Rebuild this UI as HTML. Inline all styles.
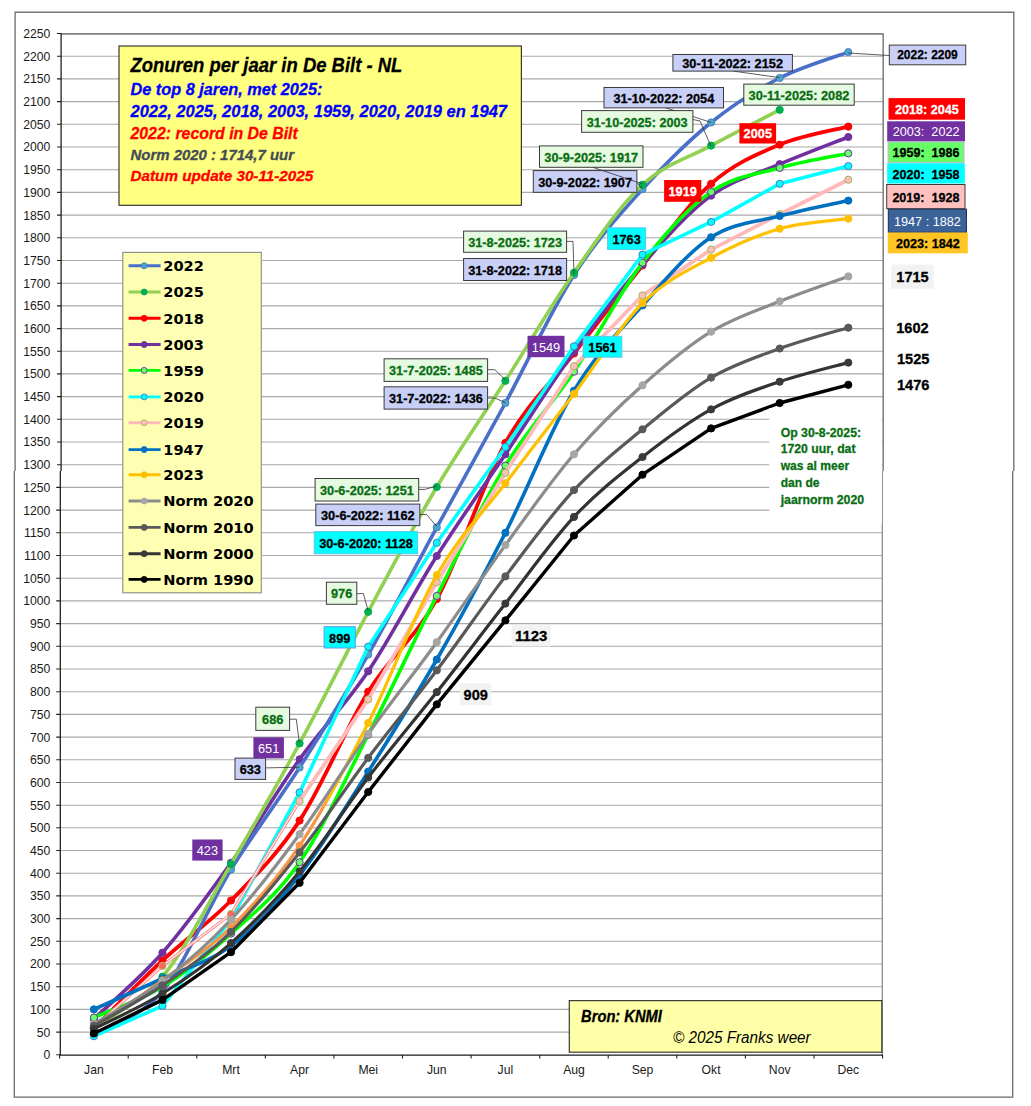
<!DOCTYPE html><html><head><meta charset="utf-8"><title>Zonuren per jaar in De Bilt</title><style>html,body{margin:0;padding:0;background:#fff;width:1031px;height:1106px;overflow:hidden}svg{display:block}</style></head><body>
<svg width="1031" height="1106" viewBox="0 0 1031 1106">
<rect x="0" y="0" width="1031" height="1106" fill="#fff"/>
<path d="M15.1,471.0V12.2H1013.8V471.0" stroke="#767676" stroke-width="1.4" fill="none"/>
<path d="M14.3,471.0V1097.1H1012.7V471.0" stroke="#6a6a6a" stroke-width="1.3" fill="none"/>
<path d="M60.2,1032.1H882.2M60.2,1009.4H882.2M60.2,986.7H882.2M60.2,964.0H882.2M60.2,941.3H882.2M60.2,918.6H882.2M60.2,895.9H882.2M60.2,873.2H882.2M60.2,850.5H882.2M60.2,827.8H882.2M60.2,805.2H882.2M60.2,782.5H882.2M60.2,759.8H882.2M60.2,737.1H882.2M60.2,714.4H882.2M60.2,691.7H882.2M60.2,669.0H882.2M60.2,646.3H882.2M60.2,623.6H882.2M60.2,600.9H882.2M60.2,578.2H882.2M60.2,555.5H882.2M60.2,532.8H882.2M60.2,510.1H882.2M60.2,487.4H882.2M61.0,464.7H883.0M61.0,442.0H883.0M61.0,419.3H883.0M61.0,396.6H883.0M61.0,373.9H883.0M61.0,351.3H883.0M61.0,328.6H883.0M61.0,305.9H883.0M61.0,283.2H883.0M61.0,260.5H883.0M61.0,237.8H883.0M61.0,215.1H883.0M61.0,192.4H883.0M61.0,169.7H883.0M61.0,147.0H883.0M61.0,124.3H883.0M61.0,101.6H883.0M61.0,78.9H883.0M61.0,56.2H883.0M61.0,33.5H883.0" stroke="#a9a9a9" stroke-width="1.1" fill="none"/>
<path d="M61.0,34.0H883.2V471.0" stroke="#7e7e7e" stroke-width="1.5" fill="none"/>
<path d="M882.3,471.0V1055.0" stroke="#858585" stroke-width="1.2" fill="none"/>
<path d="M56.2,1054.8H60.4M56.2,1032.1H60.4M56.2,1009.4H60.4M56.2,986.7H60.4M56.2,964.0H60.4M56.2,941.3H60.4M56.2,918.6H60.4M56.2,895.9H60.4M56.2,873.2H60.4M56.2,850.5H60.4M56.2,827.8H60.4M56.2,805.2H60.4M56.2,782.5H60.4M56.2,759.8H60.4M56.2,737.1H60.4M56.2,714.4H60.4M56.2,691.7H60.4M56.2,669.0H60.4M56.2,646.3H60.4M56.2,623.6H60.4M56.2,600.9H60.4M56.2,578.2H60.4M56.2,555.5H60.4M56.2,532.8H60.4M56.2,510.1H60.4M56.2,487.4H60.4M57.0,464.7H61.2M57.0,442.0H61.2M57.0,419.3H61.2M57.0,396.6H61.2M57.0,373.9H61.2M57.0,351.3H61.2M57.0,328.6H61.2M57.0,305.9H61.2M57.0,283.2H61.2M57.0,260.5H61.2M57.0,237.8H61.2M57.0,215.1H61.2M57.0,192.4H61.2M57.0,169.7H61.2M57.0,147.0H61.2M57.0,124.3H61.2M57.0,101.6H61.2M57.0,78.9H61.2M57.0,56.2H61.2M57.0,33.5H61.2M59.6,1055.0V1058.6M128.2,1055.0V1058.6M196.8,1055.0V1058.6M265.3,1055.0V1058.6M333.9,1055.0V1058.6M402.5,1055.0V1058.6M471.1,1055.0V1058.6M539.7,1055.0V1058.6M608.2,1055.0V1058.6M676.8,1055.0V1058.6M745.4,1055.0V1058.6M814.0,1055.0V1058.6M882.6,1055.0V1058.6" stroke="#222" stroke-width="1.1" fill="none"/>
<path d="M61.1,33.0V471.0" stroke="#1a1a1a" stroke-width="1.25" fill="none"/>
<path d="M60.3,471.0V1055.0H882.6" stroke="#1a1a1a" stroke-width="1.25" fill="none"/>
<g font-family="'Liberation Sans', Arial, sans-serif" font-size="12.2" fill="#1a1a1a" text-anchor="end"><text x="50.3" y="1059.2">0</text><text x="50.3" y="1036.5">50</text><text x="50.3" y="1013.8">100</text><text x="50.3" y="991.1">150</text><text x="50.3" y="968.4">200</text><text x="50.3" y="945.7">250</text><text x="50.3" y="923.0">300</text><text x="50.3" y="900.3">350</text><text x="50.3" y="877.6">400</text><text x="50.3" y="854.9">450</text><text x="50.3" y="832.2">500</text><text x="50.3" y="809.6">550</text><text x="50.3" y="786.9">600</text><text x="50.3" y="764.2">650</text><text x="50.3" y="741.5">700</text><text x="50.3" y="718.8">750</text><text x="50.3" y="696.1">800</text><text x="50.3" y="673.4">850</text><text x="50.3" y="650.7">900</text><text x="50.3" y="628.0">950</text><text x="50.3" y="605.3">1000</text><text x="50.3" y="582.6">1050</text><text x="50.3" y="559.9">1100</text><text x="50.3" y="537.2">1150</text><text x="50.3" y="514.5">1200</text><text x="50.3" y="491.8">1250</text><text x="50.3" y="469.1">1300</text><text x="50.3" y="446.4">1350</text><text x="50.3" y="423.7">1400</text><text x="50.3" y="401.0">1450</text><text x="50.3" y="378.3">1500</text><text x="50.3" y="355.7">1550</text><text x="50.3" y="333.0">1600</text><text x="50.3" y="310.3">1650</text><text x="50.3" y="287.6">1700</text><text x="50.3" y="264.9">1750</text><text x="50.3" y="242.2">1800</text><text x="50.3" y="219.5">1850</text><text x="50.3" y="196.8">1900</text><text x="50.3" y="174.1">1950</text><text x="50.3" y="151.4">2000</text><text x="50.3" y="128.7">2050</text><text x="50.3" y="106.0">2100</text><text x="50.3" y="83.3">2150</text><text x="50.3" y="60.6">2200</text><text x="50.3" y="37.9">2250</text></g>
<g font-family="'Liberation Sans', Arial, sans-serif" font-size="12.2" fill="#1a1a1a" text-anchor="middle"><text x="93.9" y="1074.0">Jan</text><text x="162.5" y="1074.0">Feb</text><text x="231.0" y="1074.0">Mrt</text><text x="299.6" y="1074.0">Apr</text><text x="368.2" y="1074.0">Mei</text><text x="436.8" y="1074.0">Jun</text><text x="505.4" y="1074.0">Jul</text><text x="574.0" y="1074.0">Aug</text><text x="642.5" y="1074.0">Sep</text><text x="711.1" y="1074.0">Okt</text><text x="779.7" y="1074.0">Nov</text><text x="848.3" y="1074.0">Dec</text></g>
<defs><linearGradient id="g23" gradientUnits="userSpaceOnUse" x1="299.6" y1="0" x2="368.2" y2="0"><stop offset="0" stop-color="#f79646"/><stop offset="0.33" stop-color="#f79646"/><stop offset="0.45" stop-color="#ffc000"/><stop offset="1" stop-color="#ffc000"/></linearGradient></defs>
<path d="M93.9,1028.5 C105.3,1017.1 139.6,981.7 162.5,960.4 C185.3,939.1 208.2,923.8 231.0,900.5 C253.9,877.2 276.8,855.4 299.6,820.6 C322.5,785.8 345.4,728.6 368.2,691.7 C391.1,654.8 413.9,640.5 436.8,599.1 C459.7,557.6 482.5,483.9 505.4,442.9 C528.2,402.0 551.1,383.1 574.0,353.5 C596.8,323.9 619.7,293.8 642.5,265.5 C665.4,237.2 688.2,203.9 711.1,183.8 C734.0,163.6 756.8,154.3 779.7,144.7 C802.6,135.2 836.8,129.6 848.3,126.6" stroke="#ff0000" stroke-width="3.8" fill="none" stroke-linejoin="round" stroke-linecap="round"/>
<g fill="#ff0000" stroke="#ff0000" stroke-width="1"><circle cx="93.9" cy="1028.5" r="3.6"/><circle cx="162.5" cy="960.4" r="3.6"/><circle cx="231.0" cy="900.5" r="3.6"/><circle cx="299.6" cy="820.6" r="3.6"/><circle cx="368.2" cy="691.7" r="3.6"/><circle cx="436.8" cy="599.1" r="3.6"/><circle cx="505.4" cy="442.9" r="3.6"/><circle cx="574.0" cy="353.5" r="3.6"/><circle cx="642.5" cy="265.5" r="3.6"/><circle cx="711.1" cy="183.8" r="3.6"/><circle cx="779.7" cy="144.7" r="3.6"/><circle cx="848.3" cy="126.6" r="3.6"/></g>
<path d="M93.9,1018.9 C105.3,1007.9 139.6,978.7 162.5,952.7 C185.3,926.6 208.2,895.0 231.0,862.8 C253.9,830.6 276.8,791.2 299.6,759.3 C322.5,727.4 345.4,705.1 368.2,671.3 C391.1,637.4 413.9,592.1 436.8,556.0 C459.7,519.8 482.5,488.3 505.4,454.3 C528.2,420.2 551.1,383.3 574.0,351.7 C596.8,320.1 619.7,290.6 642.5,264.6 C665.4,238.5 688.2,212.3 711.1,195.6 C734.0,178.8 756.8,174.0 779.7,164.2 C802.6,154.5 836.8,141.6 848.3,137.0" stroke="#7030a0" stroke-width="3.6" fill="none" stroke-linejoin="round" stroke-linecap="round"/>
<g fill="#7030a0" stroke="#7030a0" stroke-width="1"><circle cx="93.9" cy="1018.9" r="3.6"/><circle cx="162.5" cy="952.7" r="3.6"/><circle cx="231.0" cy="862.8" r="3.6"/><circle cx="299.6" cy="759.3" r="3.6"/><circle cx="368.2" cy="671.3" r="3.6"/><circle cx="436.8" cy="556.0" r="3.6"/><circle cx="505.4" cy="454.3" r="3.6"/><circle cx="574.0" cy="351.7" r="3.6"/><circle cx="642.5" cy="264.6" r="3.6"/><circle cx="711.1" cy="195.6" r="3.6"/><circle cx="779.7" cy="164.2" r="3.6"/><circle cx="848.3" cy="137.0" r="3.6"/></g>
<path d="M93.9,1034.4 C105.3,1027.2 139.6,1018.7 162.5,991.3 C185.3,963.8 208.2,906.9 231.0,869.6 C253.9,832.3 276.8,803.3 299.6,767.5 C322.5,731.6 345.4,694.5 368.2,654.5 C391.1,614.4 413.9,569.3 436.8,527.4 C459.7,485.5 482.5,445.1 505.4,403.0 C528.2,360.9 551.1,310.6 574.0,275.0 C596.8,239.4 619.7,214.6 642.5,189.2 C665.4,163.8 688.2,141.0 711.1,122.5 C734.0,104.0 756.8,89.7 779.7,78.0 C802.6,66.3 836.8,56.4 848.3,52.1" stroke="#4a6fc9" stroke-width="3.6" fill="none" stroke-linejoin="round" stroke-linecap="round"/>
<g fill="#4ba6c8" stroke="#4a7cc4" stroke-width="1"><circle cx="93.9" cy="1034.4" r="3.6"/><circle cx="162.5" cy="991.3" r="3.6"/><circle cx="231.0" cy="869.6" r="3.6"/><circle cx="299.6" cy="767.5" r="3.6"/><circle cx="368.2" cy="654.5" r="3.6"/><circle cx="436.8" cy="527.4" r="3.6"/><circle cx="505.4" cy="403.0" r="3.6"/><circle cx="574.0" cy="275.0" r="3.6"/><circle cx="642.5" cy="189.2" r="3.6"/><circle cx="711.1" cy="122.5" r="3.6"/><circle cx="779.7" cy="78.0" r="3.6"/><circle cx="848.3" cy="52.1" r="3.6"/></g>
<path d="M93.9,1027.6 C105.3,1019.1 139.6,1004.0 162.5,976.7 C185.3,949.5 208.2,903.0 231.0,864.2 C253.9,825.3 276.8,785.5 299.6,743.4 C322.5,701.4 345.4,654.5 368.2,611.8 C391.1,569.1 413.9,525.5 436.8,487.0 C459.7,448.5 482.5,416.5 505.4,380.8 C528.2,345.1 551.1,305.4 574.0,272.7 C596.8,240.0 619.7,205.9 642.5,184.7 C665.4,163.5 688.2,158.1 711.1,145.6 C734.0,133.2 768.3,115.8 779.7,109.8" stroke="#92d050" stroke-width="3.6" fill="none" stroke-linejoin="round" stroke-linecap="round"/>
<g fill="#00b050" stroke="#00b050" stroke-width="1"><circle cx="93.9" cy="1027.6" r="3.6"/><circle cx="162.5" cy="976.7" r="3.6"/><circle cx="231.0" cy="864.2" r="3.6"/><circle cx="299.6" cy="743.4" r="3.6"/><circle cx="368.2" cy="611.8" r="3.6"/><circle cx="436.8" cy="487.0" r="3.6"/><circle cx="505.4" cy="380.8" r="3.6"/><circle cx="574.0" cy="272.7" r="3.6"/><circle cx="642.5" cy="184.7" r="3.6"/><circle cx="711.1" cy="145.6" r="3.6"/><circle cx="779.7" cy="109.8" r="3.6"/></g>
<path d="M93.9,1017.6 C105.3,1012.4 139.6,1000.7 162.5,986.7 C185.3,972.7 208.2,954.3 231.0,933.6 C253.9,912.9 276.8,895.5 299.6,862.3 C322.5,829.2 345.4,779.2 368.2,734.8 C391.1,690.4 413.9,640.8 436.8,595.9 C459.7,551.0 482.5,503.0 505.4,465.6 C528.2,428.3 551.1,405.5 574.0,371.7 C596.8,337.9 619.7,292.7 642.5,262.7 C665.4,232.8 688.2,207.7 711.1,191.9 C734.0,176.1 756.8,174.3 779.7,167.9 C802.6,161.4 836.8,155.8 848.3,153.4" stroke="#00ff00" stroke-width="3.6" fill="none" stroke-linejoin="round" stroke-linecap="round"/>
<g fill="#66ff66" stroke="#7030a0" stroke-width="1"><circle cx="93.9" cy="1017.6" r="3.6"/><circle cx="162.5" cy="986.7" r="3.6"/><circle cx="231.0" cy="933.6" r="3.6"/><circle cx="299.6" cy="862.3" r="3.6"/><circle cx="368.2" cy="734.8" r="3.6"/><circle cx="436.8" cy="595.9" r="3.6"/><circle cx="505.4" cy="465.6" r="3.6"/><circle cx="574.0" cy="371.7" r="3.6"/><circle cx="642.5" cy="262.7" r="3.6"/><circle cx="711.1" cy="191.9" r="3.6"/><circle cx="779.7" cy="167.9" r="3.6"/><circle cx="848.3" cy="153.4" r="3.6"/></g>
<path d="M93.9,1036.2 L162.5,1005.8 L231.0,919.5 L299.6,792.4 L368.2,646.7 L436.8,542.8 L505.4,447.0 L574.0,346.3 L642.5,254.6 L711.1,221.9 L779.7,183.8 L848.3,166.1" stroke="#00ffff" stroke-width="3.6" fill="none" stroke-linejoin="round" stroke-linecap="round"/>
<g fill="#00ffff" stroke="#4a7cc4" stroke-width="1"><circle cx="93.9" cy="1036.2" r="3.6"/><circle cx="162.5" cy="1005.8" r="3.6"/><circle cx="231.0" cy="919.5" r="3.6"/><circle cx="299.6" cy="792.4" r="3.6"/><circle cx="368.2" cy="646.7" r="3.6"/><circle cx="436.8" cy="542.8" r="3.6"/><circle cx="505.4" cy="447.0" r="3.6"/><circle cx="574.0" cy="346.3" r="3.6"/><circle cx="642.5" cy="254.6" r="3.6"/><circle cx="711.1" cy="221.9" r="3.6"/><circle cx="779.7" cy="183.8" r="3.6"/><circle cx="848.3" cy="166.1" r="3.6"/></g>
<path d="M93.9,1027.6 L162.5,965.8 L231.0,914.1 L299.6,801.1" stroke="#ff8080" stroke-width="3.0" fill="none" stroke-linejoin="round"/>
<path d="M93.9,1027.6 L162.5,965.8 L231.0,914.1 L299.6,801.1" stroke="#fff0f0" stroke-width="1.2" fill="none" stroke-linejoin="round"/>
<path d="M299.6,801.1 L368.2,699.4 L436.8,582.3 L505.4,472.9 L574.0,366.2 L642.5,295.4 L711.1,249.6 L779.7,214.2 L848.3,179.7" stroke="#ffb9b9" stroke-width="3.8" fill="none" stroke-linejoin="round" stroke-linecap="round"/>
<g fill="#ffbdbd" stroke="#9bbb59" stroke-width="1"><circle cx="93.9" cy="1027.6" r="3.6" fill="#ff6262"/><circle cx="162.5" cy="965.8" r="3.6" fill="#ff6262"/><circle cx="231.0" cy="914.1" r="3.6" fill="#ff6262"/><circle cx="299.6" cy="801.1" r="3.6"/><circle cx="368.2" cy="699.4" r="3.6"/><circle cx="436.8" cy="582.3" r="3.6"/><circle cx="505.4" cy="472.9" r="3.6"/><circle cx="574.0" cy="366.2" r="3.6"/><circle cx="642.5" cy="295.4" r="3.6"/><circle cx="711.1" cy="249.6" r="3.6"/><circle cx="779.7" cy="214.2" r="3.6"/><circle cx="848.3" cy="179.7" r="3.6"/></g>
<path d="M93.9,1009.4 C105.3,1004.3 139.6,989.1 162.5,978.5 C185.3,968.0 208.2,963.1 231.0,945.9 C253.9,928.6 276.8,904.1 299.6,875.1 C322.5,846.0 345.4,807.5 368.2,771.6 C391.1,735.6 413.9,699.2 436.8,659.5 C459.7,619.7 482.5,577.6 505.4,532.8 C528.2,488.0 551.1,428.6 574.0,390.7 C596.8,352.8 619.7,331.0 642.5,305.4 C665.4,279.8 688.2,252.2 711.1,237.3 C734.0,222.4 756.8,222.1 779.7,216.0 C802.6,209.9 836.8,203.1 848.3,200.6" stroke="#0070c0" stroke-width="3.6" fill="none" stroke-linejoin="round" stroke-linecap="round"/>
<g fill="#0070c0" stroke="#0070c0" stroke-width="1"><circle cx="93.9" cy="1009.4" r="3.6"/><circle cx="162.5" cy="978.5" r="3.6"/><circle cx="231.0" cy="945.9" r="3.6"/><circle cx="299.6" cy="875.1" r="3.6"/><circle cx="368.2" cy="771.6" r="3.6"/><circle cx="436.8" cy="659.5" r="3.6"/><circle cx="505.4" cy="532.8" r="3.6"/><circle cx="574.0" cy="390.7" r="3.6"/><circle cx="642.5" cy="305.4" r="3.6"/><circle cx="711.1" cy="237.3" r="3.6"/><circle cx="779.7" cy="216.0" r="3.6"/><circle cx="848.3" cy="200.6" r="3.6"/></g>
<path d="M93.9,1027.6 C105.3,1019.7 139.6,997.1 162.5,980.4 C185.3,963.6 208.2,949.7 231.0,927.3 C253.9,904.8 276.8,879.6 299.6,845.6 C322.5,811.5 345.4,768.1 368.2,723.0 C391.1,677.9 413.9,615.0 436.8,575.0 C459.7,535.1 482.5,513.5 505.4,483.3 C528.2,453.2 551.1,424.0 574.0,393.9 C596.8,363.9 619.7,325.8 642.5,303.1 C665.4,280.4 688.2,270.2 711.1,257.8 C734.0,245.3 756.8,235.2 779.7,228.7 C802.6,222.2 836.8,220.4 848.3,218.7" stroke="url(#g23)" stroke-width="3.2" fill="none" stroke-linejoin="round" stroke-linecap="round"/>
<g fill="#ffc000" stroke="#ffc000" stroke-width="1"><circle cx="93.9" cy="1027.6" r="3.6" fill="#f79646" stroke="#f79646"/><circle cx="162.5" cy="980.4" r="3.6" fill="#f79646" stroke="#f79646"/><circle cx="231.0" cy="927.3" r="3.6" fill="#f79646" stroke="#f79646"/><circle cx="299.6" cy="845.6" r="3.6" fill="#f79646" stroke="#f79646"/><circle cx="368.2" cy="723.0" r="3.6"/><circle cx="436.8" cy="575.0" r="3.6"/><circle cx="505.4" cy="483.3" r="3.6"/><circle cx="574.0" cy="393.9" r="3.6"/><circle cx="642.5" cy="303.1" r="3.6"/><circle cx="711.1" cy="257.8" r="3.6"/><circle cx="779.7" cy="228.7" r="3.6"/><circle cx="848.3" cy="218.7" r="3.6"/></g>
<path d="M93.9,1023.9 C105.3,1016.8 139.6,998.7 162.5,981.3 C185.3,963.9 208.2,944.0 231.0,919.5 C253.9,895.0 276.8,865.1 299.6,834.2 C322.5,803.3 345.4,765.9 368.2,733.9 C391.1,701.9 413.9,673.7 436.8,642.2 C459.7,610.7 482.5,576.4 505.4,545.1 C528.2,513.8 551.1,480.9 574.0,454.3 C596.8,427.7 619.7,405.7 642.5,385.3 C665.4,364.9 688.2,345.7 711.1,331.7 C734.0,317.7 756.8,310.6 779.7,301.3 C802.6,292.1 836.8,280.5 848.3,276.4" stroke="#8c8c8c" stroke-width="3.2" fill="none" stroke-linejoin="round" stroke-linecap="round"/>
<g fill="#a6a6a6" stroke="#a6a6a6" stroke-width="1"><circle cx="93.9" cy="1023.9" r="3.6"/><circle cx="162.5" cy="981.3" r="3.6"/><circle cx="231.0" cy="919.5" r="3.6"/><circle cx="299.6" cy="834.2" r="3.6"/><circle cx="368.2" cy="733.9" r="3.6"/><circle cx="436.8" cy="642.2" r="3.6"/><circle cx="505.4" cy="545.1" r="3.6"/><circle cx="574.0" cy="454.3" r="3.6"/><circle cx="642.5" cy="385.3" r="3.6"/><circle cx="711.1" cy="331.7" r="3.6"/><circle cx="779.7" cy="301.3" r="3.6"/><circle cx="848.3" cy="276.4" r="3.6"/></g>
<path d="M93.9,1025.8 C105.3,1019.0 139.6,1001.0 162.5,985.4 C185.3,969.7 208.2,954.0 231.0,931.8 C253.9,909.6 276.8,881.3 299.6,852.4 C322.5,823.4 345.4,788.3 368.2,757.9 C391.1,727.6 413.9,700.6 436.8,670.3 C459.7,640.1 482.5,606.4 505.4,576.4 C528.2,546.4 551.1,514.7 574.0,490.1 C596.8,465.6 619.7,448.1 642.5,429.3 C665.4,410.6 688.2,391.0 711.1,377.6 C734.0,364.1 756.8,356.9 779.7,348.5 C802.6,340.2 836.8,331.1 848.3,327.7" stroke="#595959" stroke-width="3.2" fill="none" stroke-linejoin="round" stroke-linecap="round"/>
<g fill="#595959" stroke="#595959" stroke-width="1"><circle cx="93.9" cy="1025.8" r="3.6"/><circle cx="162.5" cy="985.4" r="3.6"/><circle cx="231.0" cy="931.8" r="3.6"/><circle cx="299.6" cy="852.4" r="3.6"/><circle cx="368.2" cy="757.9" r="3.6"/><circle cx="436.8" cy="670.3" r="3.6"/><circle cx="505.4" cy="576.4" r="3.6"/><circle cx="574.0" cy="490.1" r="3.6"/><circle cx="642.5" cy="429.3" r="3.6"/><circle cx="711.1" cy="377.6" r="3.6"/><circle cx="779.7" cy="348.5" r="3.6"/><circle cx="848.3" cy="327.7" r="3.6"/></g>
<path d="M93.9,1028.9 C105.3,1023.0 139.6,1007.8 162.5,993.5 C185.3,979.2 208.2,963.5 231.0,943.1 C253.9,922.8 276.8,899.0 299.6,871.4 C322.5,843.8 345.4,807.3 368.2,777.5 C391.1,747.6 413.9,721.1 436.8,692.1 C459.7,663.2 482.5,632.8 505.4,603.6 C528.2,574.4 551.1,541.4 574.0,516.9 C596.8,492.5 619.7,474.9 642.5,457.0 C665.4,439.1 688.2,421.9 711.1,409.4 C734.0,396.8 756.8,389.5 779.7,381.7 C802.6,373.9 836.8,365.8 848.3,362.6" stroke="#333333" stroke-width="3.2" fill="none" stroke-linejoin="round" stroke-linecap="round"/>
<g fill="#3a3a3a" stroke="#3a3a3a" stroke-width="1"><circle cx="93.9" cy="1028.9" r="3.6"/><circle cx="162.5" cy="993.5" r="3.6"/><circle cx="231.0" cy="943.1" r="3.6"/><circle cx="299.6" cy="871.4" r="3.6"/><circle cx="368.2" cy="777.5" r="3.6"/><circle cx="436.8" cy="692.1" r="3.6"/><circle cx="505.4" cy="603.6" r="3.6"/><circle cx="574.0" cy="516.9" r="3.6"/><circle cx="642.5" cy="457.0" r="3.6"/><circle cx="711.1" cy="409.4" r="3.6"/><circle cx="779.7" cy="381.7" r="3.6"/><circle cx="848.3" cy="362.6" r="3.6"/></g>
<path d="M93.9,1033.5 L162.5,999.9 L231.0,952.2 L299.6,882.8 L368.2,792.0 L436.8,704.4 L505.4,620.4 L574.0,535.5 L642.5,474.7 L711.1,428.4 L779.7,403.0 L848.3,384.8" stroke="#000000" stroke-width="3.4" fill="none" stroke-linejoin="round" stroke-linecap="round"/>
<g fill="#000000" stroke="#000000" stroke-width="1"><circle cx="93.9" cy="1033.5" r="3.6"/><circle cx="162.5" cy="999.9" r="3.6"/><circle cx="231.0" cy="952.2" r="3.6"/><circle cx="299.6" cy="882.8" r="3.6"/><circle cx="368.2" cy="792.0" r="3.6"/><circle cx="436.8" cy="704.4" r="3.6"/><circle cx="505.4" cy="620.4" r="3.6"/><circle cx="574.0" cy="535.5" r="3.6"/><circle cx="642.5" cy="474.7" r="3.6"/><circle cx="711.1" cy="428.4" r="3.6"/><circle cx="779.7" cy="403.0" r="3.6"/><circle cx="848.3" cy="384.8" r="3.6"/></g>
<path d="M848.4,53.0 L889.3,55.5" stroke="#333" stroke-width="0.8" fill="none"/>
<rect x="889.3" y="45.1" width="76.4" height="19.7" fill="#c8d0f8" stroke="#3a3a3a" stroke-width="1.0"/>
<text stroke="#000" stroke-width="0.30" x="927.5" y="59.2" font-family="'Liberation Sans', Arial, sans-serif" font-size="12.5" font-weight="bold" font-style="normal" fill="#000" text-anchor="middle" textLength="60.6" lengthAdjust="spacingAndGlyphs">2022: 2209</text>
<path d="M733.3,71.1 L779.5,77.6" stroke="#333" stroke-width="0.8" fill="none"/>
<rect x="672.9" y="54.5" width="119.5" height="16.6" fill="#c8d0f8" stroke="#3a3a3a" stroke-width="1.0"/>
<text stroke="#000" stroke-width="0.30" x="732.6" y="67.9" font-family="'Liberation Sans', Arial, sans-serif" font-size="13.2" font-weight="bold" font-style="normal" fill="#000" text-anchor="middle" textLength="100.8" lengthAdjust="spacingAndGlyphs">30-11-2022: 2152</text>
<path d="M665.8,107.9 L692.9,116.5 L710.9,122.4" stroke="#333" stroke-width="0.8" fill="none"/>
<rect x="604.0" y="87.5" width="119.5" height="20.4" fill="#c8d0f8" stroke="#3a3a3a" stroke-width="1.0"/>
<text stroke="#000" stroke-width="0.30" x="663.8" y="102.8" font-family="'Liberation Sans', Arial, sans-serif" font-size="13.2" font-weight="bold" font-style="normal" fill="#000" text-anchor="middle" textLength="100.8" lengthAdjust="spacingAndGlyphs">31-10-2022: 2054</text>
<path d="M636.9,182.5 L642.6,188.8" stroke="#333" stroke-width="0.8" fill="none"/>
<rect x="533.3" y="170.6" width="103.6" height="21.7" fill="#c8d0f8" stroke="#3a3a3a" stroke-width="1.0"/>
<text stroke="#000" stroke-width="0.30" x="585.1" y="186.5" font-family="'Liberation Sans', Arial, sans-serif" font-size="13.2" font-weight="bold" font-style="normal" fill="#000" text-anchor="middle" textLength="93.7" lengthAdjust="spacingAndGlyphs">30-9-2022: 1907</text>
<rect x="463.6" y="258.5" width="103.0" height="22.0" fill="#c8d0f8" stroke="#3a3a3a" stroke-width="1.0"/>
<text stroke="#000" stroke-width="0.30" x="515.1" y="274.6" font-family="'Liberation Sans', Arial, sans-serif" font-size="13.2" font-weight="bold" font-style="normal" fill="#000" text-anchor="middle" textLength="93.7" lengthAdjust="spacingAndGlyphs">31-8-2022: 1718</text>
<path d="M487.6,398.0 L494.9,398.0 L505.4,402.7" stroke="#333" stroke-width="0.8" fill="none"/>
<rect x="384.1" y="386.8" width="103.5" height="22.3" fill="#c8d0f8" stroke="#3a3a3a" stroke-width="1.0"/>
<text stroke="#000" stroke-width="0.30" x="435.9" y="403.1" font-family="'Liberation Sans', Arial, sans-serif" font-size="13.2" font-weight="bold" font-style="normal" fill="#000" text-anchor="middle" textLength="93.7" lengthAdjust="spacingAndGlyphs">31-7-2022: 1436</text>
<path d="M419.8,514.5 L426.5,514.5 L436.8,526.4" stroke="#333" stroke-width="0.8" fill="none"/>
<rect x="315.8" y="504.1" width="104.0" height="21.5" fill="#c8d0f8" stroke="#3a3a3a" stroke-width="1.0"/>
<text stroke="#000" stroke-width="0.30" x="367.8" y="520.0" font-family="'Liberation Sans', Arial, sans-serif" font-size="13.2" font-weight="bold" font-style="normal" fill="#000" text-anchor="middle" textLength="93.7" lengthAdjust="spacingAndGlyphs">30-6-2022: 1162</text>
<path d="M265.6,767.9 L299.3,767.2" stroke="#333" stroke-width="0.8" fill="none"/>
<rect x="235.0" y="758.1" width="30.6" height="21.3" fill="#c8d0f8" stroke="#3a3a3a" stroke-width="1.0"/>
<text stroke="#000" stroke-width="0.30" x="250.3" y="773.9" font-family="'Liberation Sans', Arial, sans-serif" font-size="13.2" font-weight="bold" font-style="normal" fill="#000" text-anchor="middle" textLength="21.3" lengthAdjust="spacingAndGlyphs">633</text>
<rect x="743.8" y="84.1" width="110.4" height="21.1" fill="#e6f9e1" stroke="#3a3a3a" stroke-width="1.0"/>
<text stroke="#086e12" stroke-width="0.30" x="799.0" y="99.8" font-family="'Liberation Sans', Arial, sans-serif" font-size="13.2" font-weight="bold" font-style="normal" fill="#086e12" text-anchor="middle" textLength="100.8" lengthAdjust="spacingAndGlyphs">30-11-2025: 2082</text>
<path d="M692.9,119.5 L700.0,121.0 L710.9,146.1" stroke="#333" stroke-width="0.8" fill="none"/>
<rect x="581.6" y="110.6" width="111.3" height="21.7" fill="#e6f9e1" stroke="#3a3a3a" stroke-width="1.0"/>
<text stroke="#086e12" stroke-width="0.30" x="637.2" y="126.5" font-family="'Liberation Sans', Arial, sans-serif" font-size="13.2" font-weight="bold" font-style="normal" fill="#086e12" text-anchor="middle" textLength="100.8" lengthAdjust="spacingAndGlyphs">31-10-2025: 2003</text>
<path d="M592.8,167.3 L642.6,183.9" stroke="#333" stroke-width="0.8" fill="none"/>
<rect x="539.5" y="145.9" width="103.5" height="21.4" fill="#e6f9e1" stroke="#3a3a3a" stroke-width="1.0"/>
<text stroke="#086e12" stroke-width="0.30" x="591.2" y="161.7" font-family="'Liberation Sans', Arial, sans-serif" font-size="13.2" font-weight="bold" font-style="normal" fill="#086e12" text-anchor="middle" textLength="93.7" lengthAdjust="spacingAndGlyphs">30-9-2025: 1917</text>
<path d="M566.6,241.4 L573.0,241.4 L574.0,273.9" stroke="#333" stroke-width="0.8" fill="none"/>
<rect x="463.6" y="231.1" width="103.0" height="21.2" fill="#e6f9e1" stroke="#3a3a3a" stroke-width="1.0"/>
<text stroke="#086e12" stroke-width="0.30" x="515.1" y="246.8" font-family="'Liberation Sans', Arial, sans-serif" font-size="13.2" font-weight="bold" font-style="normal" fill="#086e12" text-anchor="middle" textLength="93.7" lengthAdjust="spacingAndGlyphs">31-8-2025: 1723</text>
<path d="M487.6,369.7 L494.9,369.7 L505.4,380.0" stroke="#333" stroke-width="0.8" fill="none"/>
<rect x="384.1" y="358.8" width="103.5" height="22.6" fill="#e6f9e1" stroke="#3a3a3a" stroke-width="1.0"/>
<text stroke="#086e12" stroke-width="0.30" x="435.9" y="375.2" font-family="'Liberation Sans', Arial, sans-serif" font-size="13.2" font-weight="bold" font-style="normal" fill="#086e12" text-anchor="middle" textLength="93.7" lengthAdjust="spacingAndGlyphs">31-7-2025: 1485</text>
<path d="M418.7,489.4 L424.9,489.4 L436.8,486.0" stroke="#333" stroke-width="0.8" fill="none"/>
<rect x="315.1" y="478.5" width="103.6" height="22.5" fill="#e6f9e1" stroke="#3a3a3a" stroke-width="1.0"/>
<text stroke="#086e12" stroke-width="0.30" x="366.9" y="494.9" font-family="'Liberation Sans', Arial, sans-serif" font-size="13.2" font-weight="bold" font-style="normal" fill="#086e12" text-anchor="middle" textLength="93.7" lengthAdjust="spacingAndGlyphs">30-6-2025: 1251</text>
<path d="M356.8,593.6 L363.4,593.6 L368.2,611.0" stroke="#333" stroke-width="0.8" fill="none"/>
<rect x="326.4" y="582.2" width="30.4" height="22.1" fill="#e6f9e1" stroke="#3a3a3a" stroke-width="1.0"/>
<text stroke="#086e12" stroke-width="0.30" x="341.6" y="598.4" font-family="'Liberation Sans', Arial, sans-serif" font-size="13.2" font-weight="bold" font-style="normal" fill="#086e12" text-anchor="middle" textLength="21.3" lengthAdjust="spacingAndGlyphs">976</text>
<path d="M289.6,719.2 L296.3,719.2 L299.3,742.8" stroke="#333" stroke-width="0.8" fill="none"/>
<rect x="255.8" y="707.2" width="33.8" height="23.2" fill="#e6f9e1" stroke="#3a3a3a" stroke-width="1.0"/>
<text stroke="#086e12" stroke-width="0.30" x="272.7" y="723.9" font-family="'Liberation Sans', Arial, sans-serif" font-size="13.2" font-weight="bold" font-style="normal" fill="#086e12" text-anchor="middle" textLength="21.3" lengthAdjust="spacingAndGlyphs">686</text>
<rect x="888.5" y="98.1" width="76.5" height="21.6" fill="#ff0000"/>
<text stroke="#fff" stroke-width="0.30" x="926.8" y="114.0" font-family="'Liberation Sans', Arial, sans-serif" font-size="13.2" font-weight="bold" font-style="normal" fill="#fff" text-anchor="middle" textLength="63.8" lengthAdjust="spacingAndGlyphs">2018: 2045</text>
<rect x="739.4" y="123.2" width="36.7" height="20.3" fill="#ff0000"/>
<text stroke="#fff" stroke-width="0.30" x="757.8" y="138.4" font-family="'Liberation Sans', Arial, sans-serif" font-size="13.2" font-weight="bold" font-style="normal" fill="#fff" text-anchor="middle" textLength="28.4" lengthAdjust="spacingAndGlyphs">2005</text>
<rect x="664.1" y="180.0" width="37.2" height="21.8" fill="#ff0000"/>
<text stroke="#fff" stroke-width="0.30" x="682.7" y="196.0" font-family="'Liberation Sans', Arial, sans-serif" font-size="13.2" font-weight="bold" font-style="normal" fill="#fff" text-anchor="middle" textLength="28.4" lengthAdjust="spacingAndGlyphs">1919</text>
<rect x="887.2" y="121.3" width="77.8" height="20.1" fill="#7030a0"/>
<text x="926.1" y="136.4" font-family="'Liberation Sans', Arial, sans-serif" font-size="13.2" font-weight="normal" font-style="normal" fill="#fff" text-anchor="middle" textLength="66.8" lengthAdjust="spacingAndGlyphs">2003:&#160; 2022</text>
<rect x="527.5" y="335.8" width="37.0" height="21.4" fill="#7030a0"/>
<text x="546.0" y="351.6" font-family="'Liberation Sans', Arial, sans-serif" font-size="13.2" font-weight="normal" font-style="normal" fill="#fff" text-anchor="middle" textLength="28.4" lengthAdjust="spacingAndGlyphs">1549</text>
<rect x="253.4" y="737.3" width="30.5" height="21.1" fill="#7030a0"/>
<text x="268.6" y="752.9" font-family="'Liberation Sans', Arial, sans-serif" font-size="13.2" font-weight="normal" font-style="normal" fill="#fff" text-anchor="middle" textLength="21.3" lengthAdjust="spacingAndGlyphs">651</text>
<rect x="192.3" y="839.5" width="30.3" height="21.1" fill="#7030a0"/>
<text x="207.4" y="855.1" font-family="'Liberation Sans', Arial, sans-serif" font-size="13.2" font-weight="normal" font-style="normal" fill="#fff" text-anchor="middle" textLength="21.3" lengthAdjust="spacingAndGlyphs">423</text>
<rect x="888.1" y="141.8" width="75.9" height="21.0" fill="#66ff66" stroke="#c7a6e6" stroke-width="1.0"/>
<text stroke="#000" stroke-width="0.30" x="926.0" y="157.4" font-family="'Liberation Sans', Arial, sans-serif" font-size="13.2" font-weight="bold" font-style="normal" fill="#000" text-anchor="middle" textLength="67.0" lengthAdjust="spacingAndGlyphs">1959:&#160; 1986</text>
<rect x="887.2" y="163.3" width="77.6" height="20.2" fill="#00ffff"/>
<text stroke="#000" stroke-width="0.30" x="926.0" y="178.5" font-family="'Liberation Sans', Arial, sans-serif" font-size="13.2" font-weight="bold" font-style="normal" fill="#000" text-anchor="middle" textLength="67.0" lengthAdjust="spacingAndGlyphs">2020:&#160; 1958</text>
<rect x="607.6" y="227.8" width="38.0" height="21.8" fill="#00ffff" stroke="#5ac8e8" stroke-width="1.0"/>
<text stroke="#000" stroke-width="0.30" x="626.6" y="243.8" font-family="'Liberation Sans', Arial, sans-serif" font-size="13.2" font-weight="bold" font-style="normal" fill="#000" text-anchor="middle" textLength="28.4" lengthAdjust="spacingAndGlyphs">1763</text>
<rect x="583.2" y="336.3" width="38.6" height="20.9" fill="#00ffff" stroke="#5ac8e8" stroke-width="1.0"/>
<text stroke="#000" stroke-width="0.30" x="602.5" y="351.9" font-family="'Liberation Sans', Arial, sans-serif" font-size="13.2" font-weight="bold" font-style="normal" fill="#000" text-anchor="middle" textLength="28.4" lengthAdjust="spacingAndGlyphs">1561</text>
<rect x="314.3" y="531.6" width="103.3" height="22.2" fill="#00ffff" stroke="#5ac8e8" stroke-width="1.0"/>
<text stroke="#000" stroke-width="0.30" x="366.0" y="547.8" font-family="'Liberation Sans', Arial, sans-serif" font-size="13.2" font-weight="bold" font-style="normal" fill="#000" text-anchor="middle" textLength="93.7" lengthAdjust="spacingAndGlyphs">30-6-2020: 1128</text>
<rect x="324.1" y="626.7" width="31.2" height="21.3" fill="#00ffff" stroke="#5a9be8" stroke-width="1.0"/>
<text stroke="#000" stroke-width="0.30" x="339.7" y="642.5" font-family="'Liberation Sans', Arial, sans-serif" font-size="13.2" font-weight="bold" font-style="normal" fill="#000" text-anchor="middle" textLength="21.3" lengthAdjust="spacingAndGlyphs">899</text>
<rect x="886.7" y="184.5" width="78.3" height="24.2" fill="#ffc0c0" stroke="#3a3a3a" stroke-width="1.0"/>
<text stroke="#000" stroke-width="0.30" x="925.9" y="201.7" font-family="'Liberation Sans', Arial, sans-serif" font-size="13.2" font-weight="bold" font-style="normal" fill="#000" text-anchor="middle" textLength="67.0" lengthAdjust="spacingAndGlyphs">2019:&#160; 1928</text>
<rect x="888.3" y="209.2" width="78.2" height="23.1" fill="#3b6299" stroke="#1f2f4f" stroke-width="1.0"/>
<text x="927.4" y="225.8" font-family="'Liberation Sans', Arial, sans-serif" font-size="13.2" font-weight="normal" font-style="normal" fill="#fff" text-anchor="middle" textLength="66.8" lengthAdjust="spacingAndGlyphs">1947 : 1882</text>
<rect x="887.8" y="232.5" width="80.0" height="20.8" fill="#ffc524"/>
<text stroke="#000" stroke-width="0.30" x="927.8" y="248.0" font-family="'Liberation Sans', Arial, sans-serif" font-size="13.2" font-weight="bold" font-style="normal" fill="#000" text-anchor="middle" textLength="63.8" lengthAdjust="spacingAndGlyphs">2023: 1842</text>
<rect x="891.2" y="264.6" width="42.5" height="24.1" fill="#f2f2f2"/>
<text stroke="#000" stroke-width="0.30" x="912.5" y="281.9" font-family="'Liberation Sans', Arial, sans-serif" font-size="15.0" font-weight="bold" font-style="normal" fill="#000" text-anchor="middle" textLength="32.4" lengthAdjust="spacingAndGlyphs">1715</text>
<rect x="511.6" y="625.2" width="39.1" height="21.2" fill="#f2f2f2"/>
<text stroke="#000" stroke-width="0.30" x="531.2" y="641.1" font-family="'Liberation Sans', Arial, sans-serif" font-size="15.0" font-weight="bold" font-style="normal" fill="#000" text-anchor="middle" textLength="32.4" lengthAdjust="spacingAndGlyphs">1123</text>
<rect x="460.1" y="683.3" width="31.2" height="21.8" fill="#f2f2f2"/>
<text stroke="#000" stroke-width="0.30" x="475.7" y="699.5" font-family="'Liberation Sans', Arial, sans-serif" font-size="15.0" font-weight="bold" font-style="normal" fill="#000" text-anchor="middle" textLength="24.3" lengthAdjust="spacingAndGlyphs">909</text>
<text stroke="#000" stroke-width="0.30" x="896.2" y="333.2" font-family="'Liberation Sans', Arial, sans-serif" font-size="15.0" font-weight="bold" font-style="normal" fill="#000" text-anchor="start" textLength="32.4" lengthAdjust="spacingAndGlyphs">1602</text>
<text stroke="#000" stroke-width="0.30" x="897.0" y="364.0" font-family="'Liberation Sans', Arial, sans-serif" font-size="15.0" font-weight="bold" font-style="normal" fill="#000" text-anchor="start" textLength="32.4" lengthAdjust="spacingAndGlyphs">1525</text>
<text stroke="#000" stroke-width="0.30" x="897.0" y="390.0" font-family="'Liberation Sans', Arial, sans-serif" font-size="15.0" font-weight="bold" font-style="normal" fill="#000" text-anchor="start" textLength="32.4" lengthAdjust="spacingAndGlyphs">1476</text>
<rect x="769.3" y="408.0" width="112.6" height="116.0" fill="#fff"/>
<text stroke="#086e12" stroke-width="0.30" x="780.7" y="436.5" font-family="'Liberation Sans', Arial, sans-serif" font-size="12.9" font-weight="bold" font-style="normal" fill="#086e12" text-anchor="start" textLength="80.4" lengthAdjust="spacingAndGlyphs">Op 30-8-2025:</text>
<text stroke="#086e12" stroke-width="0.30" x="780.7" y="453.3" font-family="'Liberation Sans', Arial, sans-serif" font-size="12.9" font-weight="bold" font-style="normal" fill="#086e12" text-anchor="start" textLength="74.8" lengthAdjust="spacingAndGlyphs">1720 uur, dat</text>
<text stroke="#086e12" stroke-width="0.30" x="780.7" y="470.1" font-family="'Liberation Sans', Arial, sans-serif" font-size="12.9" font-weight="bold" font-style="normal" fill="#086e12" text-anchor="start" textLength="68.4" lengthAdjust="spacingAndGlyphs">was al meer</text>
<text stroke="#086e12" stroke-width="0.30" x="780.7" y="486.9" font-family="'Liberation Sans', Arial, sans-serif" font-size="12.9" font-weight="bold" font-style="normal" fill="#086e12" text-anchor="start" textLength="38.8" lengthAdjust="spacingAndGlyphs">dan de</text>
<text stroke="#086e12" stroke-width="0.30" x="780.7" y="503.7" font-family="'Liberation Sans', Arial, sans-serif" font-size="12.9" font-weight="bold" font-style="normal" fill="#086e12" text-anchor="start" textLength="83.4" lengthAdjust="spacingAndGlyphs">jaarnorm 2020</text>
<rect x="119.0" y="46.0" width="402.4" height="159.3" fill="#ffff80" stroke="#3a3a3a" stroke-width="1.2"/>
<text stroke="#000" stroke-width="0.30" x="130.5" y="71.6" font-family="'Liberation Sans', Arial, sans-serif" font-size="20.1" font-weight="bold" font-style="italic" fill="#000" text-anchor="start" textLength="271.9" lengthAdjust="spacingAndGlyphs">Zonuren per jaar in De Bilt - NL</text>
<text stroke="#0000ff" stroke-width="0.30" x="130.5" y="94.5" font-family="'Liberation Sans', Arial, sans-serif" font-size="17.2" font-weight="bold" font-style="italic" fill="#0000ff" text-anchor="start" textLength="191.9" lengthAdjust="spacingAndGlyphs">De top 8 jaren, met 2025:</text>
<text stroke="#0000ff" stroke-width="0.30" x="130.5" y="116.8" font-family="'Liberation Sans', Arial, sans-serif" font-size="17.2" font-weight="bold" font-style="italic" fill="#0000ff" text-anchor="start" textLength="376.5" lengthAdjust="spacingAndGlyphs">2022, 2025, 2018, 2003, 1959, 2020, 2019 en 1947</text>
<text stroke="#ff0000" stroke-width="0.30" x="130.5" y="139.3" font-family="'Liberation Sans', Arial, sans-serif" font-size="17.2" font-weight="bold" font-style="italic" fill="#ff0000" text-anchor="start" textLength="167.3" lengthAdjust="spacingAndGlyphs">2022: record in De Bilt</text>
<text stroke="#444c54" stroke-width="0.30" x="130.5" y="160.1" font-family="'Liberation Sans', Arial, sans-serif" font-size="14.1" font-weight="bold" font-style="italic" fill="#444c54" text-anchor="start" textLength="163.5" lengthAdjust="spacingAndGlyphs">Norm 2020 : 1714,7 uur</text>
<text stroke="#ff0000" stroke-width="0.30" x="130.5" y="180.9" font-family="'Liberation Sans', Arial, sans-serif" font-size="14.1" font-weight="bold" font-style="italic" fill="#ff0000" text-anchor="start" textLength="182.8" lengthAdjust="spacingAndGlyphs">Datum update 30-11-2025</text>
<rect x="122.8" y="252.4" width="138.5" height="340.4" fill="#ffffb3" stroke="#8a8a8a" stroke-width="1.1"/>
<path d="M128.6,265.8H160.6" stroke="#4a6fc9" stroke-width="2.9"/>
<circle cx="144.2" cy="265.8" r="3.0" fill="#4ba6c8" stroke="#4a7cc4" stroke-width="0.9"/>
<text x="163.3" y="271.1" font-family="'DejaVu Sans', Verdana, sans-serif" font-size="14.6" font-weight="bold" font-style="normal" fill="#000" text-anchor="start">2022</text>
<path d="M128.6,292.0H160.6" stroke="#92d050" stroke-width="2.9"/>
<circle cx="144.2" cy="292.0" r="3.0" fill="#00b050" stroke="#00b050" stroke-width="0.9"/>
<text x="163.3" y="297.3" font-family="'DejaVu Sans', Verdana, sans-serif" font-size="14.6" font-weight="bold" font-style="normal" fill="#000" text-anchor="start">2025</text>
<path d="M128.6,318.3H160.6" stroke="#ff0000" stroke-width="2.9"/>
<circle cx="144.2" cy="318.3" r="3.0" fill="#ff0000" stroke="#ff0000" stroke-width="0.9"/>
<text x="163.3" y="323.6" font-family="'DejaVu Sans', Verdana, sans-serif" font-size="14.6" font-weight="bold" font-style="normal" fill="#000" text-anchor="start">2018</text>
<path d="M128.6,344.5H160.6" stroke="#7030a0" stroke-width="2.9"/>
<circle cx="144.2" cy="344.5" r="3.0" fill="#7030a0" stroke="#7030a0" stroke-width="0.9"/>
<text x="163.3" y="349.8" font-family="'DejaVu Sans', Verdana, sans-serif" font-size="14.6" font-weight="bold" font-style="normal" fill="#000" text-anchor="start">2003</text>
<path d="M128.6,370.4H160.6" stroke="#00ff00" stroke-width="2.9"/>
<circle cx="144.2" cy="370.4" r="3.0" fill="#66ff66" stroke="#7030a0" stroke-width="0.9"/>
<text x="163.3" y="375.7" font-family="'DejaVu Sans', Verdana, sans-serif" font-size="14.6" font-weight="bold" font-style="normal" fill="#000" text-anchor="start">1959</text>
<path d="M128.6,396.9H160.6" stroke="#00ffff" stroke-width="2.9"/>
<circle cx="144.2" cy="396.9" r="3.0" fill="#00ffff" stroke="#4a7cc4" stroke-width="0.9"/>
<text x="163.3" y="402.2" font-family="'DejaVu Sans', Verdana, sans-serif" font-size="14.6" font-weight="bold" font-style="normal" fill="#000" text-anchor="start">2020</text>
<path d="M128.6,422.8H160.6" stroke="#ffb9b9" stroke-width="2.9"/>
<circle cx="144.2" cy="422.8" r="3.0" fill="#ffbdbd" stroke="#9bbb59" stroke-width="0.9"/>
<text x="163.3" y="428.1" font-family="'DejaVu Sans', Verdana, sans-serif" font-size="14.6" font-weight="bold" font-style="normal" fill="#000" text-anchor="start">2019</text>
<path d="M128.6,449.6H160.6" stroke="#0070c0" stroke-width="2.9"/>
<circle cx="144.2" cy="449.6" r="3.0" fill="#0070c0" stroke="#0070c0" stroke-width="0.9"/>
<text x="163.3" y="454.9" font-family="'DejaVu Sans', Verdana, sans-serif" font-size="14.6" font-weight="bold" font-style="normal" fill="#000" text-anchor="start">1947</text>
<path d="M128.6,474.8H160.6" stroke="#ffc000" stroke-width="2.9"/>
<circle cx="144.2" cy="474.8" r="3.0" fill="#ffc000" stroke="#ffc000" stroke-width="0.9"/>
<text x="163.3" y="480.1" font-family="'DejaVu Sans', Verdana, sans-serif" font-size="14.6" font-weight="bold" font-style="normal" fill="#000" text-anchor="start">2023</text>
<path d="M128.6,501.0H160.6" stroke="#8c8c8c" stroke-width="2.9"/>
<circle cx="144.2" cy="501.0" r="3.0" fill="#a6a6a6" stroke="#a6a6a6" stroke-width="0.9"/>
<text x="163.3" y="506.3" font-family="'DejaVu Sans', Verdana, sans-serif" font-size="14.6" font-weight="bold" font-style="normal" fill="#000" text-anchor="start">Norm 2020</text>
<path d="M128.6,527.4H160.6" stroke="#595959" stroke-width="2.9"/>
<circle cx="144.2" cy="527.4" r="3.0" fill="#595959" stroke="#595959" stroke-width="0.9"/>
<text x="163.3" y="532.7" font-family="'DejaVu Sans', Verdana, sans-serif" font-size="14.6" font-weight="bold" font-style="normal" fill="#000" text-anchor="start">Norm 2010</text>
<path d="M128.6,553.7H160.6" stroke="#333333" stroke-width="2.9"/>
<circle cx="144.2" cy="553.7" r="3.0" fill="#3a3a3a" stroke="#3a3a3a" stroke-width="0.9"/>
<text x="163.3" y="559.0" font-family="'DejaVu Sans', Verdana, sans-serif" font-size="14.6" font-weight="bold" font-style="normal" fill="#000" text-anchor="start">Norm 2000</text>
<path d="M128.6,579.4H160.6" stroke="#000000" stroke-width="2.9"/>
<circle cx="144.2" cy="579.4" r="3.0" fill="#000000" stroke="#000000" stroke-width="0.9"/>
<text x="163.3" y="584.7" font-family="'DejaVu Sans', Verdana, sans-serif" font-size="14.6" font-weight="bold" font-style="normal" fill="#000" text-anchor="start">Norm 1990</text>
<rect x="569.3" y="1000.6" width="312.5" height="51.6" fill="#ffffa8" stroke="#3a3a3a" stroke-width="1.2"/>
<text stroke="#000" stroke-width="0.30" x="581.1" y="1022.3" font-family="'Liberation Sans', Arial, sans-serif" font-size="15.8" font-weight="bold" font-style="italic" fill="#000" text-anchor="start" textLength="80.8" lengthAdjust="spacingAndGlyphs">Bron: KNMI</text>
<text x="673.0" y="1042.5" font-family="'Liberation Sans', Arial, sans-serif" font-size="15.8" font-weight="normal" font-style="italic" fill="#000" text-anchor="start" textLength="137.7" lengthAdjust="spacingAndGlyphs">&#169; 2025 Franks weer</text>
</svg></body></html>
